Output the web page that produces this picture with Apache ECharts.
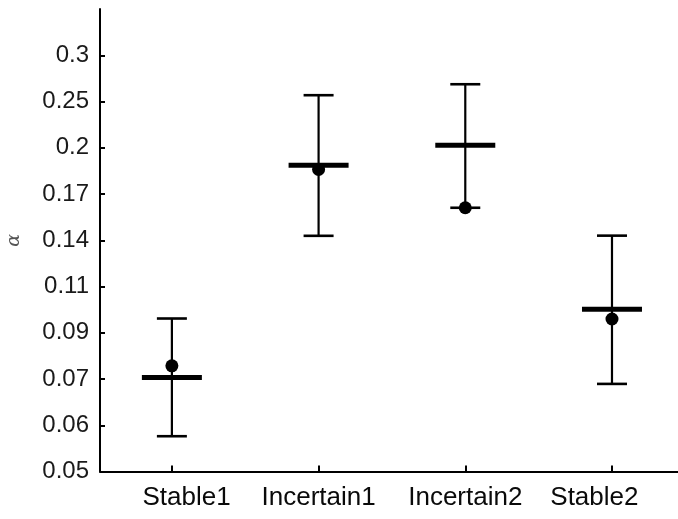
<!DOCTYPE html>
<html>
<head>
<meta charset="utf-8">
<script src="https://cdn.jsdelivr.net/npm/echarts@6/dist/echarts.min.js"></script>
<style>
html,body{margin:0;padding:0;background:#fff;}
#chart{width:678px;height:519px;}
</style>
</head>
<body>
<div id="chart"></div>
<script>
// ---- data ----
const categories = ['Stable1', 'Incertain1', 'Incertain2', 'Stable2'];
const upperValues = [0.0966, 0.2526, 0.2648, 0.138];
const lowerValues = [0.0582, 0.1379, 0.1556, 0.0729];
const barValues = [0.0749, 0.1869, 0.2037, 0.1005];   // thick horizontal marks
const dotValues = [0.0788, 0.1835, 0.1556, 0.0964];   // filled circles
const tickLabels = ['0.05', '0.06', '0.07', '0.09', '0.11', '0.14', '0.17', '0.2', '0.25', '0.3'];

// y axis is logarithmic: ticks are equally spaced geometric steps from 0.05 to 0.3
const Y0 = 0.05, Y9 = 0.3;
const STEP = Math.log(Y9 / Y0) / (tickLabels.length - 1);
const toAxis = v => Math.log(v / Y0) / STEP;

const errData = categories.map((c, i) => [i + 1, toAxis(lowerValues[i]), toAxis(upperValues[i]), toAxis(barValues[i])]);
const dotData = categories.map((c, i) => [i + 1, toAxis(dotValues[i])]);

const chart = echarts.init(document.getElementById('chart'));
chart.setOption({
  animation: false,
  backgroundColor: '#fff',
  grid: { left: 100, right: 0, top: 9, bottom: 47.5, containLabel: false, outerBoundsMode: 'none' },
  xAxis: {
    type: 'value', min: 0.51, max: 4.45,
    axisLine: { show: true, onZero: false, lineStyle: { color: '#000', width: 2 } },
    axisTick: { show: true, inside: true, length: 6, customValues: [1, 2, 3, 4], lineStyle: { color: '#000', width: 2 } },
    axisLabel: {
      customValues: [1.1, 2, 3, 3.88],
      formatter: v => categories[Math.round(v) - 1] || '',
      fontSize: 26, color: '#0a0a0a', fontFamily: 'Liberation Sans, Arial, sans-serif', margin: 13
    },
    splitLine: { show: false }
  },
  yAxis: {
    type: 'value', min: 0, max: 10,
    name: 'α', nameLocation: 'middle', nameRotate: 90, nameGap: 76,
    nameTextStyle: { fontSize: 19, color: '#555', fontFamily: 'DejaVu Serif, serif', fontStyle: 'italic' },
    axisLine: { show: true, onZero: false, lineStyle: { color: '#000', width: 2 } },
    axisTick: { show: true, inside: true, length: 5, customValues: [0,1,2,3,4,5,6,7,8,9], lineStyle: { color: '#000', width: 2 } },
    axisLabel: {
      customValues: [0,1,2,3,4,5,6,7,8,9],
      formatter: v => tickLabels[Math.round(v)],
      fontSize: 24, color: '#1a1a1a', fontFamily: 'Liberation Sans, Arial, sans-serif', margin: 11
    },
    splitLine: { show: false }
  },
  series: [
    {
      type: 'custom',
      data: errData,
      renderItem: function (params, api) {
        const x = api.value(0);
        const lo = api.coord([x, api.value(1)]);
        const hi = api.coord([x, api.value(2)]);
        const mid = api.coord([x, api.value(3)]);
        const capW = 15, barW = 30;
        return {
          type: 'group',
          children: [
            { type: 'line', shape: { x1: lo[0], y1: lo[1], x2: hi[0], y2: hi[1] }, style: { stroke: '#000', lineWidth: 2.2 } },
            { type: 'line', shape: { x1: hi[0] - capW, y1: hi[1], x2: hi[0] + capW, y2: hi[1] }, style: { stroke: '#000', lineWidth: 2.6 } },
            { type: 'line', shape: { x1: lo[0] - capW, y1: lo[1], x2: lo[0] + capW, y2: lo[1] }, style: { stroke: '#000', lineWidth: 2.6 } },
            { type: 'line', shape: { x1: mid[0] - barW, y1: mid[1], x2: mid[0] + barW, y2: mid[1] }, style: { stroke: '#000', lineWidth: 5 } }
          ]
        };
      },
      z: 2
    },
    {
      type: 'scatter',
      data: dotData,
      symbol: 'circle',
      symbolSize: 13,
      itemStyle: { color: '#000', opacity: 1 },
      z: 3
    }
  ]
});
</script>
</body>
</html>
